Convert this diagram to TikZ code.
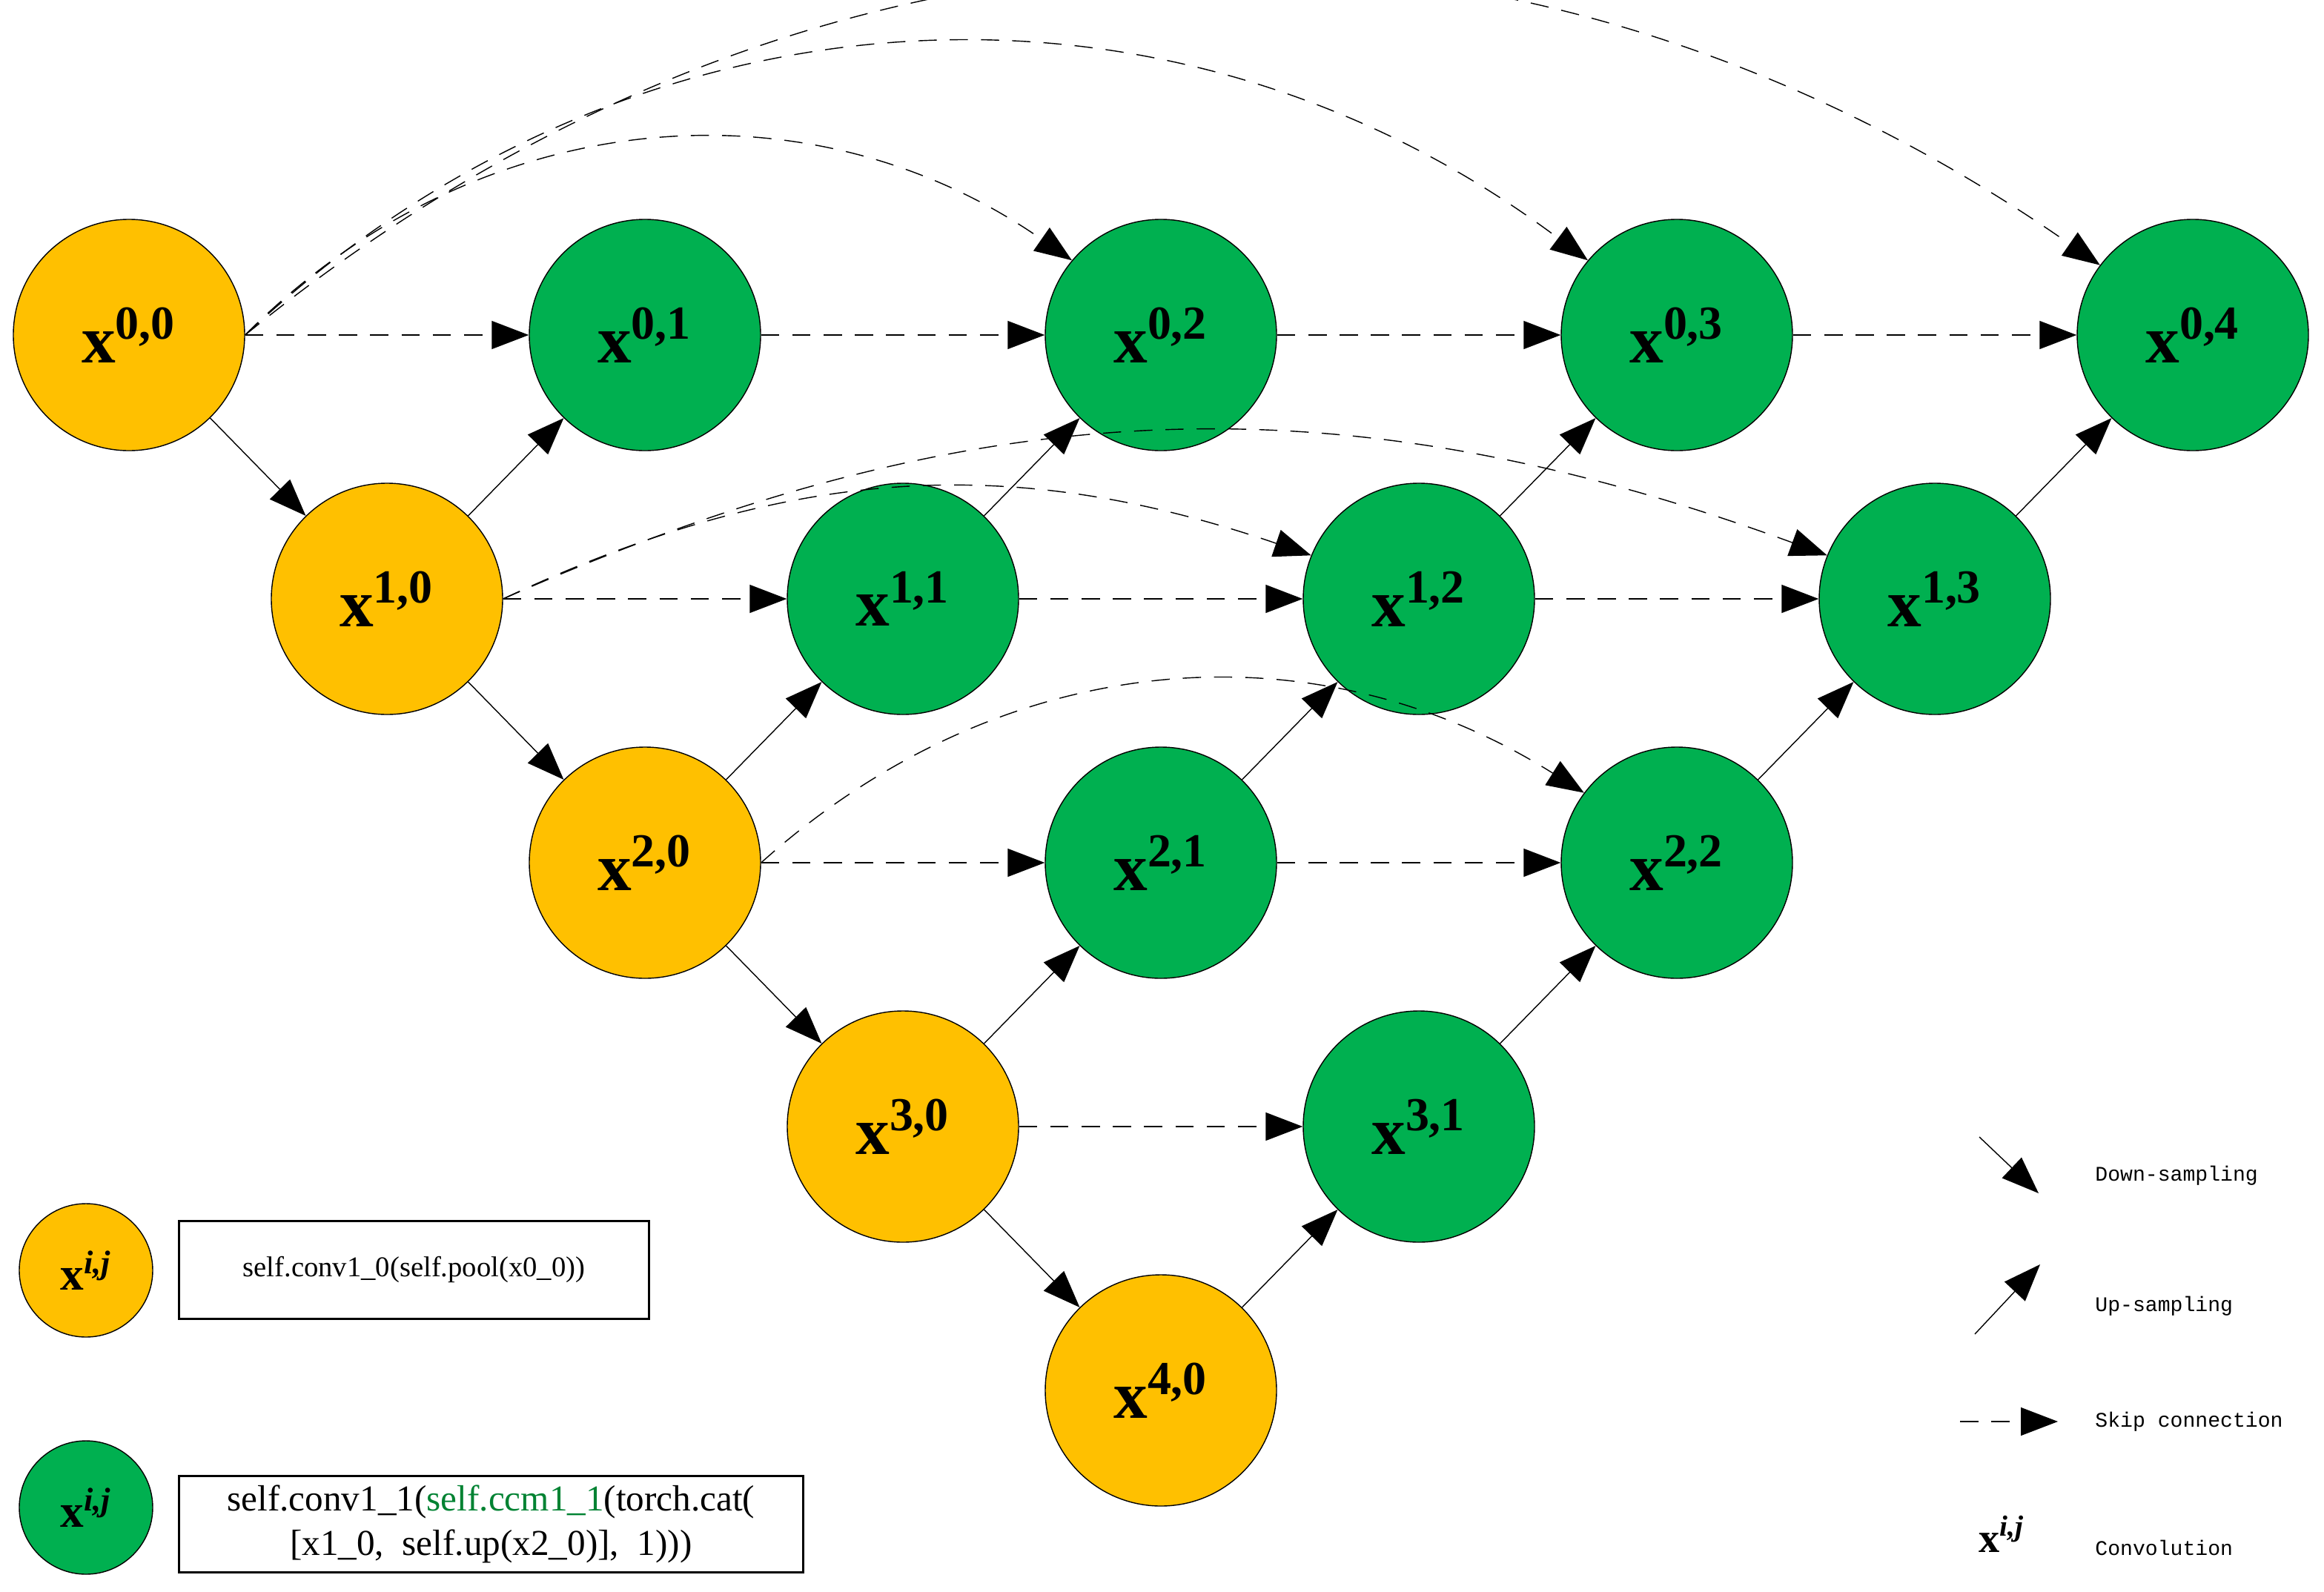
\documentclass[tikz,border=0pt]{standalone}
\usepackage{fontspec}
\setmainfont{Liberation Serif}
\setmonofont{Liberation Mono}
\usetikzlibrary{arrows.meta}
\definecolor{enc}{RGB}{255,192,0}
\definecolor{dec}{RGB}{0,176,80}
\definecolor{codegreen}{RGB}{0,130,50}
\tikzset{
  blob/.style={circle, draw=black, thin, minimum size=3.12cm, inner sep=0pt,
    font=\fontsize{26}{30}\selectfont\bfseries},
  small blob/.style={circle, draw=black, thin, minimum size=1.8cm, inner sep=0pt,
    font=\fontsize{18}{22}\selectfont\bfseries},
  tip/.style={-{Triangle[length=0.5cm, width=0.38cm]}},
  conn/.style={tip, thin},
  skip/.style={tip, thin, dash pattern=on 7pt off 5pt},
  codebox/.style={draw=black, thick, align=center, inner sep=0pt},
  lbl/.style={anchor=west, font=\ttfamily\fontsize{8}{10}\selectfont}
}
\newcommand{\xij}{x\textsuperscript{\textit{i,j}}}
\begin{document}
\begin{tikzpicture}
\useasboundingbox (0,0) rectangle (31.35,-21.48);

%nodes
\foreach \i in {0,...,4}{
  \pgfmathtruncatemacro{\jmax}{4-\i}
  \foreach \j in {0,...,\jmax}{
    \ifnum\j=0 \def\col{enc}\else\def\col{dec}\fi
    \node[blob, fill=\col] (n-\i-\j) at ({1.74+3.48*(\i+2*\j)}, {-4.52-3.56*\i})
      {x\textsuperscript{\i,\j}};
  }
}

%down and up
\foreach \i [evaluate=\i as \k using int(\i+1)] in {0,...,3}{
  \draw[conn] (n-\i-0) -- (n-\k-0);
}
\foreach \i/\j [evaluate=\i as \a using int(\i-1), evaluate=\j as \b using int(\j+1)] in
  {1/0,2/0,3/0,4/0,2/1,3/1,1/1,2/2,1/2,1/3}{
  \draw[conn] (n-\i-\j) -- (n-\a-\b);
}

%skips
\foreach \i/\j [evaluate=\j as \b using int(\j+1)] in {0/0,0/1,0/2,0/3,1/0,1/1,1/2,2/0,2/1,3/0}{
  \draw[skip] (n-\i-\j) -- (n-\i-\b);
}
\draw[skip] (n-0-0.east) to[bend left=40] (n-0-2);
\draw[skip] (n-0-0.east) to[bend left=40] (n-0-3);
\draw[skip] (n-0-0.east) to[bend left=37] (n-0-4);
\draw[skip] (n-1-0.east) to[bend left=22] (n-1-2);
\draw[skip] (n-1-0.east) to[bend left=22] (n-1-3);
\draw[skip] (n-2-0.east) to[bend left=37] (n-2-2);

%legend left
\node[small blob, fill=enc] (key-enc) at (1.16,-17.14) {\xij};
\node[codebox, minimum width=6.34cm, minimum height=1.32cm, anchor=north west,
  font=\fontsize{11}{13}\selectfont] (box-enc) at (2.4,-16.46) {self.conv1\_0(self.pool(x0\_0))};
\node[small blob, fill=dec] (key-dec) at (1.16,-20.34) {\xij};
\node[codebox, minimum width=8.42cm, minimum height=1.3cm, anchor=north west,
  font=\fontsize{14}{17}\selectfont] (box-dec) at (2.4,-19.9)
  {self.conv1\_1(\textcolor{codegreen}{self.ccm1\_1}(torch.cat(\\ {[}x1\_0,\ \ self.up(x2\_0)],\ \ 1)))};

%legend right
\coordinate (down-a) at (26.7,-15.34); \coordinate (down-b) at (27.5,-16.1);
\draw[conn] (down-a) -- (down-b);
\node[lbl] (down-t) at (28.14,-15.86) {Down-sampling};
\coordinate (up-a) at (26.64,-18.0); \coordinate (up-b) at (27.52,-17.06);
\draw[conn] (up-a) -- (up-b);
\node[lbl] (up-t) at (28.14,-17.62) {Up-sampling};
\coordinate (skip-a) at (26.44,-19.18); \coordinate (skip-b) at (27.76,-19.18);
\draw[skip] (skip-a) -- (skip-b);
\node[lbl] (skip-t) at (28.14,-19.18) {Skip connection};
\node[font=\fontsize{16}{19}\selectfont\bfseries] (conv-x) at (27.0,-20.7) {\xij};
\node[lbl] (conv-t) at (28.14,-20.88) {Convolution};
\end{tikzpicture}
\end{document}
